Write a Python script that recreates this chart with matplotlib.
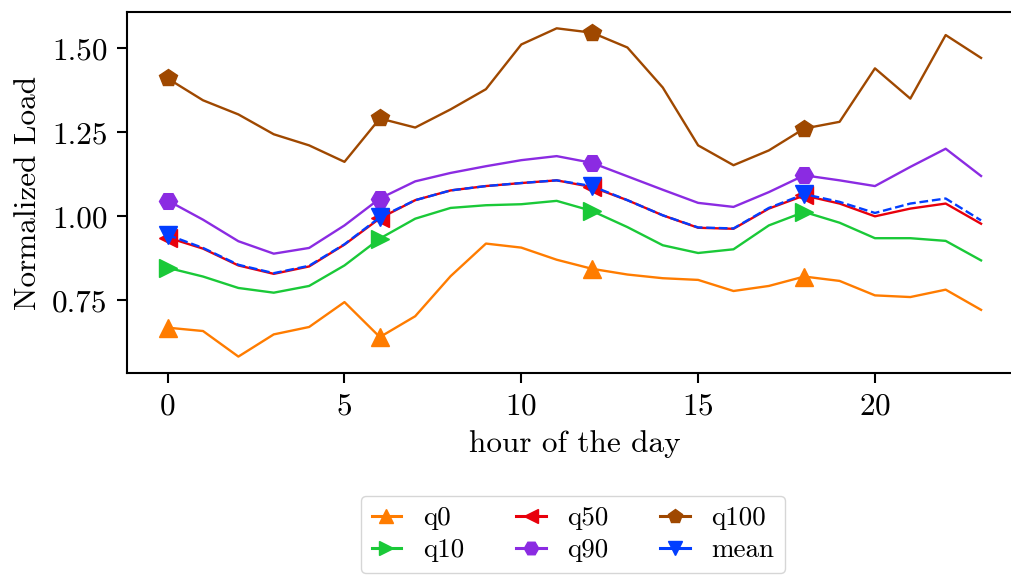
import numpy as np
import matplotlib.pyplot as plt

plt.rcParams['font.family'] = 'serif'
plt.rcParams['font.serif'] = ['cmr10']
plt.rcParams['mathtext.fontset'] = 'cm'
plt.rcParams['axes.formatter.use_mathtext'] = True
plt.rcParams['axes.linewidth'] = 1.5

hours = np.arange(24)

q0 = [0.669, 0.659, 0.583, 0.649, 0.671, 0.745, 0.641, 0.703, 0.822, 0.919, 0.907, 0.871,
      0.844, 0.827, 0.816, 0.811, 0.778, 0.793, 0.821, 0.808, 0.765, 0.760, 0.782, 0.722]
q10 = [0.847, 0.821, 0.787, 0.773, 0.793, 0.854, 0.934, 0.993, 1.025, 1.033, 1.036, 1.046,
       1.016, 0.968, 0.914, 0.891, 0.902, 0.973, 1.013, 0.981, 0.935, 0.935, 0.927, 0.869]
q50 = [0.937, 0.904, 0.854, 0.829, 0.851, 0.916, 0.994, 1.048, 1.077, 1.090, 1.099, 1.107,
       1.087, 1.048, 1.003, 0.966, 0.963, 1.023, 1.062, 1.038, 1.000, 1.023, 1.038, 0.978]
q90 = [1.047, 0.990, 0.926, 0.889, 0.906, 0.973, 1.053, 1.104, 1.129, 1.149, 1.167, 1.179,
       1.159, 1.119, 1.079, 1.040, 1.028, 1.072, 1.122, 1.107, 1.090, 1.147, 1.201, 1.120]
q100 = [1.410, 1.345, 1.303, 1.244, 1.211, 1.162, 1.291, 1.264, 1.318, 1.378, 1.511, 1.559,
        1.546, 1.502, 1.383, 1.211, 1.152, 1.196, 1.261, 1.281, 1.440, 1.350, 1.539, 1.471]
mean = [0.945, 0.906, 0.856, 0.831, 0.853, 0.917, 0.997, 1.048, 1.077, 1.090, 1.099, 1.107,
        1.090, 1.048, 1.003, 0.967, 0.964, 1.025, 1.066, 1.043, 1.010, 1.038, 1.053, 0.988]

labels = ['q0', 'q10', 'q50', 'q90', 'q100', 'mean']
series = [q0, q10, q50, q90, q100, mean]
colors = ['#FF7C00', '#1AC938', '#E8000B', '#8B2BE2', '#9F4800', '#023EFF']
markers = ['^', '>', '<', 'H', 'p', 'v']
styles = ['-', '-', '-', '-', '-', '--']

fig = plt.figure(figsize=(10.11, 5.75), dpi=100)
ax = fig.add_axes([0.1256, 0.3513, 0.885, 0.628])

for y, lab, c, m, ls in zip(series, labels, colors, markers, styles):
    ax.plot(hours, y, color=c, marker=m, ls=ls, lw=1.7, markersize=13,
            markevery=6, label=lab)

ax.set_xticks([0, 5, 10, 15, 20])
ax.set_yticks([0.75, 1.00, 1.25, 1.50])
ax.set_yticklabels(['0.75', '1.00', '1.25', '1.50'])
ax.tick_params(labelsize=22.5, width=1.5, length=7, pad=7)
ax.set_xlabel('hour of the day', fontsize=22.5, labelpad=7)
ax.set_ylabel('Normalized Load', fontsize=22.5, labelpad=7)
ax.spines['right'].set_visible(False)

leg = fig.legend(loc='upper center', bbox_to_anchor=(573 / 1011, 1 - 482 / 575), ncol=3,
                 fontsize=19.5, frameon=True, handlelength=1.1, markerscale=0.8,
                 labelspacing=0.3, columnspacing=1.9)
for h in leg.get_lines():
    h.set_linewidth(2.2)
    h.set_linestyle('-')

fig.savefig('out.png', dpi=100)
